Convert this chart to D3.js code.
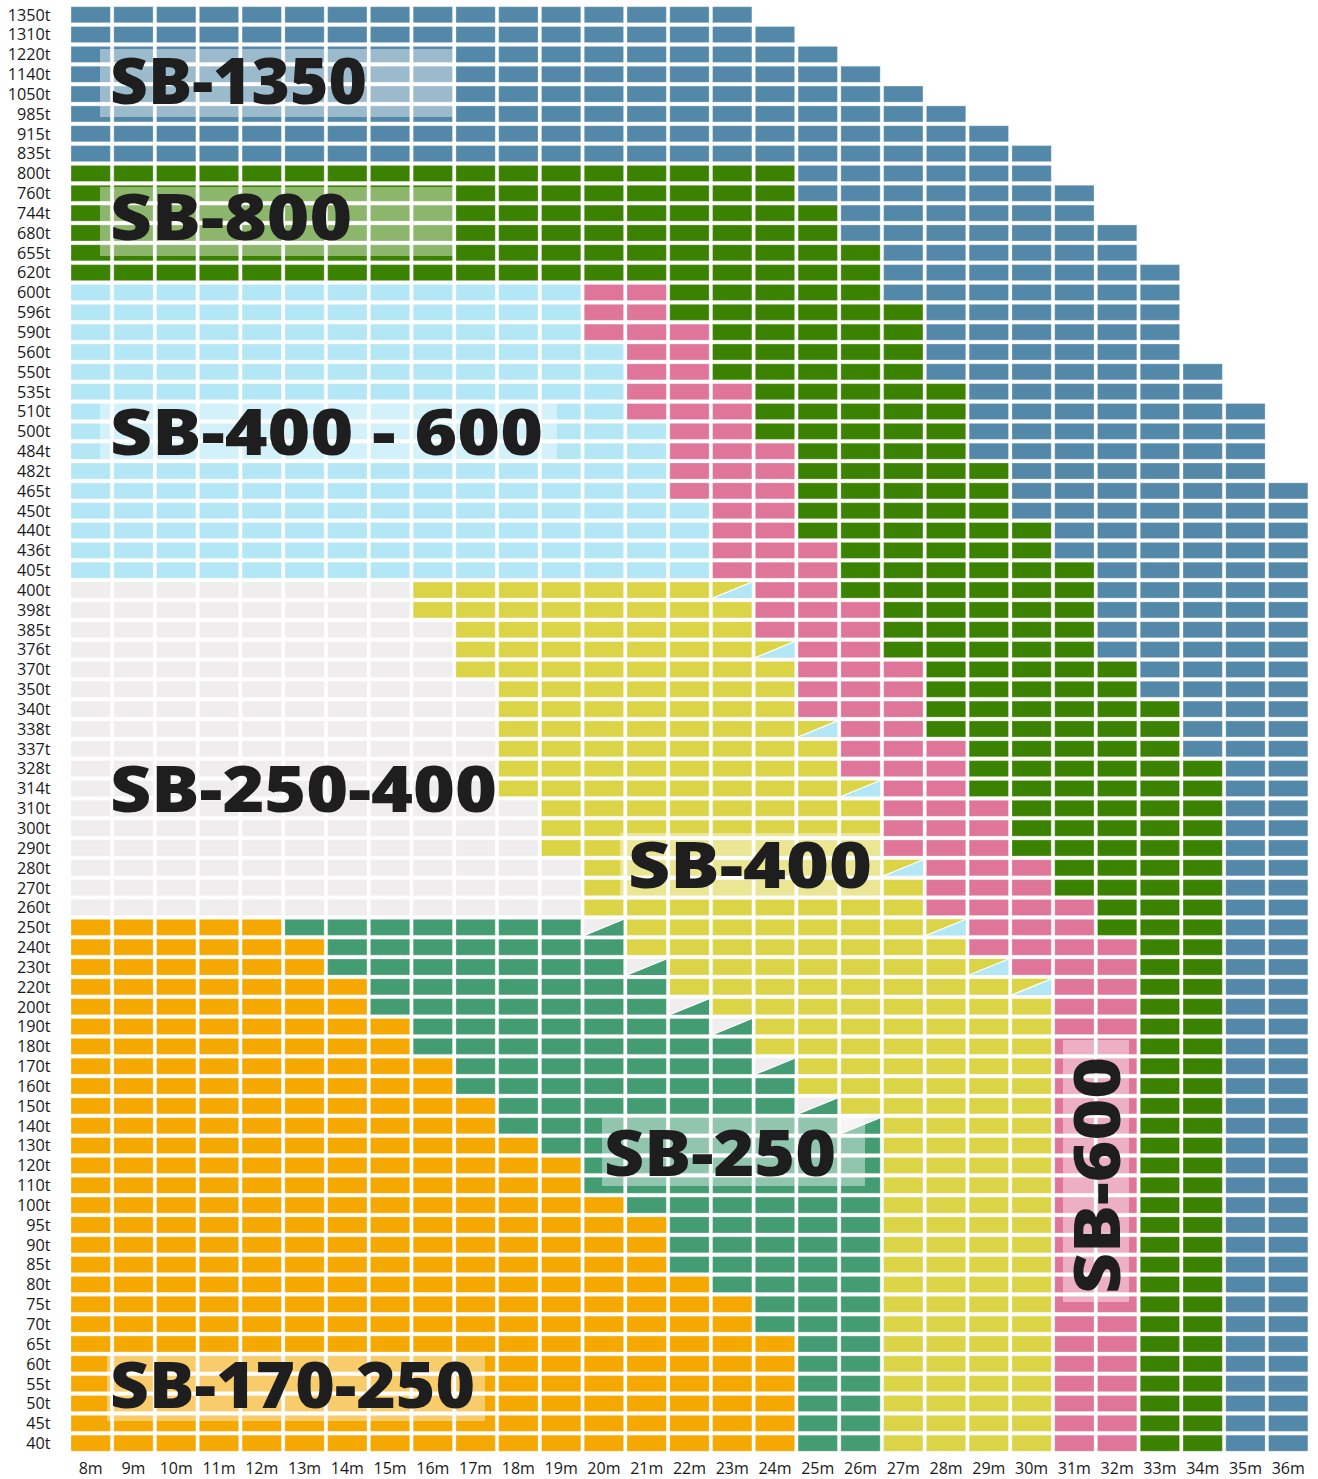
<!DOCTYPE html>
<html>
<head>
<meta charset="utf-8">
<script src="https://cdn.jsdelivr.net/npm/d3@7"></script>
<style>
  body { margin: 0; background: #fff; }
  svg text { font-family: "Open Sans", "DejaVu Sans", sans-serif; }
</style>
</head>
<body>
<div id="chart"></div>
<script>
// boom length (columns)
const lengths = ["8m","9m","10m","11m","12m","13m","14m","15m","16m","17m","18m","19m","20m","21m","22m",
  "23m","24m","25m","26m","27m","28m","29m","30m","31m","32m","33m","34m","35m","36m"];

// lifting capacity (rows, top to bottom)
const weights = ["1350t","1310t","1220t","1140t","1050t","985t","915t","835t","800t","760t","744t","680t",
  "655t","620t","600t","596t","590t","560t","550t","535t","510t","500t","484t","482t","465t","450t","440t",
  "436t","405t","400t","398t","385t","376t","370t","350t","340t","338t","337t","328t","314t","310t","300t",
  "290t","280t","270t","260t","250t","240t","230t","220t","200t","190t","180t","170t","160t","150t","140t",
  "130t","120t","110t","100t","95t","90t","85t","80t","75t","70t","65t","60t","55t","50t","45t","40t"];

const classCodes = ["A","B","C","D","E","F","G","H"];
const classNames = ["SB-1350","SB-800","SB-400 - 600","SB-250-400","SB-400","SB-600","SB-250","SB-170-250"];
const classColors = ["#5388a8","#3a8200","#b3e7f6","#efeded","#dcd447","#df7598","#449c72","#f5a800"];

// run-length per row: code + count ; two-letter code = split cell (upper-left / lower-right)
const rowRuns = [
  "A16","A17","A18","A19","A20","A21","A22","A23",
  "B17 A6","B17 A7","B18 A6","B18 A7","B19 A6","B19 A7",
  "C12 F2 B5 A7","C12 F2 B6 A6","C12 F3 B5 A6","C13 F2 B5 A6","C13 F2 B5 A7","C13 F3 B5 A6",
  "C13 F3 B5 A7","C14 F2 B5 A7","C14 F3 B4 A7","C14 F3 B5 A6","C14 F3 B5 A7","C15 F2 B5 A7",
  "C15 F2 B6 A6","C15 F3 B5 A6","C15 F3 B6 A5",
  "D8 E7 EC1 F2 B6 A5","D8 E8 F3 B5 A5","D9 E7 F3 B5 A5","D9 E7 EC1 F2 B5 A5","D9 E8 F3 B5 A4",
  "D10 E7 F3 B5 A4","D10 E7 F3 B6 A3","D10 E7 EC1 F2 B6 A3","D10 E8 F3 B5 A3","D10 E8 F3 B6 A2",
  "D10 E8 EC1 F2 B6 A2","D11 E8 F3 B5 A2","D11 E8 F3 B5 A2","D11 E8 F3 B5 A2",
  "D12 E7 EC1 F3 B4 A2","D12 E8 F3 B4 A2","D12 E8 F4 B3 A2",
  "H5 G7 DG1 E7 EC1 F3 B3 A2","H6 G7 E8 F4 B2 A2","H6 G7 DG1 E7 EC1 F3 B2 A2",
  "H7 G7 E8 EC1 F2 B2 A2","H7 G7 DG1 E8 F2 B2 A2","H8 G7 DG1 E7 F2 B2 A2","H8 G8 E7 F2 B2 A2",
  "H9 G7 DG1 E6 F2 B2 A2","H9 G8 E6 F2 B2 A2","H10 G7 DG1 E5 F2 B2 A2","H10 G8 DG1 E4 F2 B2 A2",
  "H11 G8 E4 F2 B2 A2","H12 G7 E4 F2 B2 A2","H12 G7 E4 F2 B2 A2","H13 G6 E4 F2 B2 A2",
  "H14 G5 E4 F2 B2 A2","H14 G5 E4 F2 B2 A2","H14 G5 E4 F2 B2 A2","H15 G4 E4 F2 B2 A2",
  "H16 G3 E4 F2 B2 A2","H16 G3 E4 F2 B2 A2","H17 G2 E4 F2 B2 A2","H17 G2 E4 F2 B2 A2",
  "H17 G2 E4 F2 B2 A2","H17 G2 E4 F2 B2 A2","H17 G2 E4 F2 B2 A2","H17 G2 E4 F2 B2 A2"
];

// build cell list
const color = d3.scaleOrdinal().domain(classCodes).range(classColors);
const cells = [];
rowRuns.forEach((runs, r) => {
  let c = 0;
  runs.split(" ").forEach(tok => {
    const code = tok.match(/[A-Z]+/)[0];
    const n = +tok.match(/\d+/)[0];
    for (let k = 0; k < n; k++, c++) {
      cells.push({ len: lengths[c], wt: weights[r], a: code[0], b: code[1] || null });
    }
  });
});

const width = 1318, height = 1479;
const svg = d3.select("#chart").append("svg").attr("width", width).attr("height", height);

const x = d3.scaleBand().domain(lengths).range([69.3, 1309.6]).paddingInner(0.08).paddingOuter(0.04);
const y = d3.scaleBand().domain(weights).range([4.8, 1453.1]).paddingInner(0.19).paddingOuter(0.095);
const bw = x.bandwidth(), bh = y.bandwidth();

const g = svg.append("g");
g.selectAll("rect.cell")
  .data(cells.filter(d => !d.b))
  .join("rect")
  .attr("class", "cell")
  .attr("x", d => x(d.len))
  .attr("y", d => y(d.wt))
  .attr("width", bw)
  .attr("height", bh)
  .attr("fill", d => color(d.a))
  .attr("stroke", "#fff")
  .attr("stroke-opacity", 0.3)
  .attr("stroke-width", 1);

// split cells: diagonal from bottom-left to top-right
const splits = cells.filter(d => d.b);
const sg = g.selectAll("g.split").data(splits).join("g").attr("class", "split")
  .attr("transform", d => `translate(${x(d.len)},${y(d.wt)})`);
sg.append("path")
  .attr("d", `M0,0H${bw}L0,${bh}Z`)
  .attr("fill", d => color(d.a));
sg.append("path")
  .attr("d", `M${bw},0V${bh}H0Z`)
  .attr("fill", d => color(d.b));
sg.append("line")
  .attr("x1", 0).attr("y1", bh).attr("x2", bw).attr("y2", 0)
  .attr("stroke", "#fff").attr("stroke-width", 1.2);

// axes
const yAxis = svg.append("g").attr("transform", "translate(50.5,0)")
  .call(d3.axisLeft(y).tickSize(0).tickPadding(0));
yAxis.select(".domain").remove();
yAxis.selectAll("text").attr("font-size", 16.2).attr("fill", "#1a1a1a")
  .attr("font-family", "'Open Sans', sans-serif").attr("dy", "0.36em");

const xAxis = svg.append("g").attr("transform", "translate(0,1458)")
  .call(d3.axisBottom(x).tickSize(0).tickPadding(0));
xAxis.select(".domain").remove();
xAxis.selectAll("text").attr("font-size", 16).attr("fill", "#1a1a1a")
  .attr("font-family", "'Open Sans', sans-serif").attr("dy", "0.98em");

// region labels (layout)
const labelLayout = [
  { name: "SB-1350", box: [100, 49, 353, 68], tx: 110, ty: 104, w: 257 },
  { name: "SB-800", box: [100, 187, 353, 69], tx: 110, ty: 240, w: 242 },
  { name: "SB-400 - 600", box: [100, 403, 457, 57], tx: 110, ty: 455, w: 433 },
  { name: "SB-250-400", box: null, tx: 110, ty: 812, w: 387 },
  { name: "SB-400", box: [620, 833, 260, 63], tx: 628, ty: 888, w: 244 },
  { name: "SB-250", box: [602, 1118, 263, 68], tx: 604, ty: 1176, w: 232 },
  { name: "SB-170-250", box: [107, 1355, 378, 66], tx: 110, ty: 1408, w: 365 },
  { name: "SB-600", box: [1063, 1040, 66, 262], tx: 1120, ty: 1294, w: 237, rot: true }
];

const lab = svg.append("g");
labelLayout.filter(d => d.box).forEach(d => {
  lab.append("rect")
    .attr("x", d.box[0]).attr("y", d.box[1])
    .attr("width", d.box[2]).attr("height", d.box[3])
    .attr("fill", "#fff").attr("fill-opacity", 0.42);
});
labelLayout.forEach(d => {
  lab.append("text")
    .attr("transform", d.rot ? `translate(${d.tx},${d.ty}) rotate(-90)` : `translate(${d.tx},${d.ty})`)
    .attr("font-family", "'Open Sans', sans-serif")
    .attr("font-weight", 800)
    .attr("font-size", 64)
    .attr("fill", "#1e1e1e")
    .attr("textLength", d.w)
    .attr("lengthAdjust", "spacingAndGlyphs")
    .text(d.name);
});
</script>
</body>
</html>
